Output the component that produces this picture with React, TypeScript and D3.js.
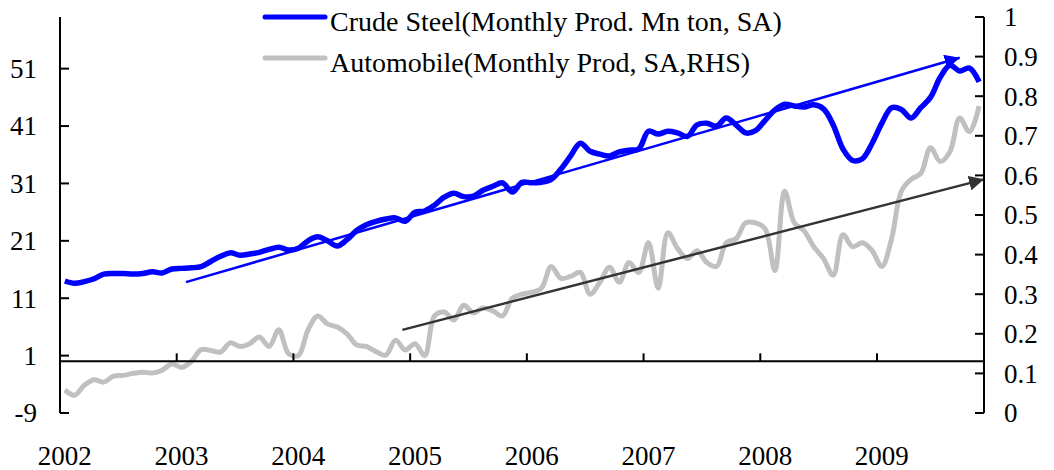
import React, { useRef, useEffect } from 'react';
import * as d3 from 'd3';

// monthly data, Jan 2002 .. Nov 2009
const steel: number[] = [
  14.0, 13.6, 13.9, 14.4, 15.2, 15.3, 15.3, 15.2, 15.3, 15.6, 15.4, 16.1,
  16.2, 16.3, 16.5, 17.4, 18.3, 18.9, 18.5, 18.7, 19.0, 19.5, 19.9, 19.4,
  19.7, 21.0, 21.7, 21.0, 20.1, 21.2, 22.8, 23.8, 24.4, 24.8, 25.0, 24.4,
  26.0, 26.2, 27.2, 28.6, 29.3, 28.7, 28.8, 29.8, 30.5, 31.1, 29.5, 31.2,
  31.1, 31.2, 31.7, 33.5, 35.8, 38.0, 36.6, 36.1, 35.8, 36.5, 36.8, 37.0,
  40.1, 39.6, 40.1, 39.8, 39.2, 41.2, 41.5, 41.0, 42.4, 41.2, 39.8, 40.2,
  42.0, 43.8, 44.8, 44.5, 44.3, 44.7, 44.0, 41.2, 37.0, 35.0, 35.3, 38.0,
  41.5, 44.2, 43.9, 42.4, 44.2, 46.0, 49.5, 51.6, 50.6, 51.1, 48.7
];
const auto: number[] = [
  0.058, 0.045, 0.07, 0.084, 0.078, 0.093, 0.095, 0.1, 0.103, 0.101, 0.108, 0.124,
  0.115, 0.13, 0.16, 0.158, 0.154, 0.177, 0.168, 0.175, 0.192, 0.168, 0.21, 0.15,
  0.145, 0.21, 0.245, 0.225, 0.217, 0.2, 0.172, 0.168, 0.155, 0.146, 0.184, 0.159,
  0.175, 0.145, 0.245, 0.255, 0.235, 0.272, 0.253, 0.265, 0.258, 0.245, 0.29, 0.3,
  0.305, 0.315, 0.37, 0.34, 0.345, 0.355, 0.3, 0.33, 0.368, 0.33, 0.38, 0.355,
  0.43, 0.315, 0.455, 0.415, 0.39, 0.41, 0.38, 0.37, 0.43, 0.44, 0.48, 0.48,
  0.465, 0.36, 0.56, 0.48, 0.46, 0.42, 0.39, 0.348, 0.45, 0.42, 0.43, 0.41,
  0.37, 0.44, 0.56, 0.59, 0.605, 0.67, 0.635, 0.66, 0.745, 0.71, 0.775
];
const years = ['2002', '2003', '2004', '2005', '2006', '2007', '2008', '2009'];
const leftTicks = [-9, 1, 11, 21, 31, 41, 51];
const rightTicks = [0, 0.1, 0.2, 0.3, 0.4, 0.5, 0.6, 0.7, 0.8, 0.9, 1];
// trend arrows: [month position, value]
const steelTrend: [number, number][] = [[12.95, 13.8], [92.5, 52.9]];
const autoTrend: [number, number][] = [[35.2, 0.21], [95, 0.59]];
const legendItems = [
  { name: 'Crude Steel(Monthly Prod. Mn ton, SA)', color: '#0000FF' },
  { name: 'Automobile(Monthly Prod, SA,RHS)', color: '#C0C0C0' }
];

const FONT = '"Liberation Serif", "Times New Roman", serif';

function drawChart(svgEle: SVGSVGElement) {
  const svg = d3.select(svgEle);
  svg.selectAll('*').remove();

  const margin = { top: 17, left: 60, right: 984, bottom: 413 };
  const n = steel.length;

  const x = d3.scaleLinear().domain([0, n]).range([margin.left, margin.right]);
  const yL = d3.scaleLinear().domain([-9, 60]).range([margin.bottom, margin.top]);
  const yR = d3.scaleLinear().domain([0, 1]).range([margin.bottom, margin.top]);

  const defs = svg.append('defs');
  const addMarker = (id: string, color: string, size: number) => {
    defs
      .append('marker')
      .attr('id', id)
      .attr('viewBox', '0 0 10 10')
      .attr('refX', 10)
      .attr('refY', 5)
      .attr('markerWidth', size)
      .attr('markerHeight', size)
      .attr('markerUnits', 'userSpaceOnUse')
      .attr('orient', 'auto')
      .append('path')
      .attr('d', 'M0,0 L10,5 L0,10 Z')
      .attr('fill', color);
  };
  addMarker('arrowBlue', '#0000FF', 15);
  addMarker('arrowDark', '#333333', 15);

  // series (smoothed lines)
  const line = (ys: d3.ScaleLinear<number, number>) =>
    d3
      .line<number>()
      .x((_, i) => x(i + 0.5))
      .y((d) => ys(d))
      .curve(d3.curveCatmullRom.alpha(0.5));

  svg
    .append('path')
    .datum(auto)
    .attr('d', line(yR))
    .attr('fill', 'none')
    .attr('stroke', '#C0C0C0')
    .attr('stroke-width', 5)
    .attr('stroke-linejoin', 'round');

  svg
    .append('path')
    .datum(steel)
    .attr('d', line(yL))
    .attr('fill', 'none')
    .attr('stroke', '#0000FF')
    .attr('stroke-width', 5.5)
    .attr('stroke-linejoin', 'round');

  // trend arrows
  svg
    .append('line')
    .attr('x1', x(steelTrend[0][0]))
    .attr('y1', yL(steelTrend[0][1]))
    .attr('x2', x(steelTrend[1][0]))
    .attr('y2', yL(steelTrend[1][1]))
    .attr('stroke', '#0000FF')
    .attr('stroke-width', 2.5)
    .attr('marker-end', 'url(#arrowBlue)');
  svg
    .append('line')
    .attr('x1', x(autoTrend[0][0]))
    .attr('y1', yR(autoTrend[0][1]))
    .attr('x2', x(autoTrend[1][0]))
    .attr('y2', yR(autoTrend[1][1]))
    .attr('stroke', '#333333')
    .attr('stroke-width', 2.5)
    .attr('marker-end', 'url(#arrowDark)');

  // category axis crosses at left value 0
  const axisY = yL(0);
  const xAxis = svg.append('g').attr('stroke', '#000');
  xAxis
    .append('line')
    .attr('x1', margin.left)
    .attr('x2', margin.right)
    .attr('y1', axisY)
    .attr('y2', axisY)
    .attr('stroke-width', 2);
  years.forEach((yr, k) => {
    xAxis
      .append('line')
      .attr('x1', x(k * 12))
      .attr('x2', x(k * 12))
      .attr('y1', axisY)
      .attr('y2', axisY - 8)
      .attr('stroke-width', 2);
    svg
      .append('text')
      .attr('x', x(k * 12 + 0.5))
      .attr('y', 465)
      .attr('text-anchor', 'middle')
      .attr('font-family', FONT)
      .attr('font-size', 27)
      .text(yr);
  });

  // left axis
  svg
    .append('line')
    .attr('x1', margin.left)
    .attr('x2', margin.left)
    .attr('y1', margin.top)
    .attr('y2', margin.bottom)
    .attr('stroke', '#000')
    .attr('stroke-width', 2);
  leftTicks.forEach((t) => {
    svg
      .append('line')
      .attr('x1', margin.left)
      .attr('x2', margin.left + 9)
      .attr('y1', yL(t))
      .attr('y2', yL(t))
      .attr('stroke', '#000')
      .attr('stroke-width', 2);
    svg
      .append('text')
      .attr('x', 37)
      .attr('y', yL(t))
      .attr('dy', '0.35em')
      .attr('text-anchor', 'end')
      .attr('font-family', FONT)
      .attr('font-size', 27)
      .text(String(t));
  });

  // right axis
  svg
    .append('line')
    .attr('x1', margin.right)
    .attr('x2', margin.right)
    .attr('y1', margin.top)
    .attr('y2', margin.bottom)
    .attr('stroke', '#000')
    .attr('stroke-width', 2);
  rightTicks.forEach((t) => {
    svg
      .append('line')
      .attr('x1', margin.right - 9)
      .attr('x2', margin.right)
      .attr('y1', yR(t))
      .attr('y2', yR(t))
      .attr('stroke', '#000')
      .attr('stroke-width', 2);
    svg
      .append('text')
      .attr('x', 1004)
      .attr('y', yR(t))
      .attr('dy', '0.35em')
      .attr('text-anchor', 'start')
      .attr('font-family', FONT)
      .attr('font-size', 27)
      .text(d3.format('~g')(t));
  });

  // legend
  legendItems.forEach((item, k) => {
    const ly = 17 + k * 41;
    svg
      .append('line')
      .attr('x1', 265)
      .attr('x2', 325)
      .attr('y1', ly)
      .attr('y2', ly)
      .attr('stroke', item.color)
      .attr('stroke-width', 5)
      .attr('stroke-linecap', 'round');
    svg
      .append('text')
      .attr('x', 330)
      .attr('y', ly + 14)
      .attr('font-family', FONT)
      .attr('font-size', 28)
      .text(item.name);
  });
}

export default function App(): JSX.Element {
  const svgRef = useRef<SVGSVGElement>(null);

  useEffect(() => {
    if (svgRef.current == null) {
      return;
    }
    drawChart(svgRef.current);
  }, []);

  return (
    <svg
      ref={svgRef}
      width={1054}
      height={470}
      style={{ position: 'absolute', left: 0, top: 0, background: '#fff' }}
    />
  );
}
